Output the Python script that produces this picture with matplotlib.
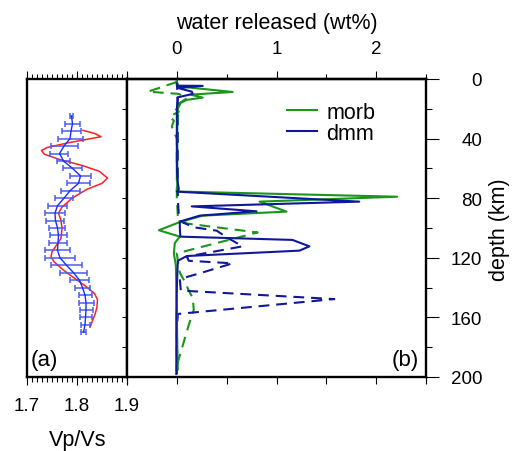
import numpy as np
import matplotlib
matplotlib.use("Agg")
import matplotlib.pyplot as plt
from matplotlib.ticker import MultipleLocator, FixedLocator

plt.rcParams['font.family'] = ['Liberation Sans', 'DejaVu Sans']

# ---------------- data : panel (a) ----------------
depth_a = [25, 30, 35, 40, 45, 50, 55, 60, 65, 70, 75, 80, 85, 90, 95, 100, 105,
           110, 115, 120, 125, 130, 135, 140, 145, 150, 155, 160, 165, 170]
vpvs_obs = [1.789, 1.791, 1.788, 1.786, 1.774, 1.765, 1.773, 1.791, 1.807, 1.803,
            1.786, 1.774, 1.761, 1.756, 1.757, 1.761, 1.763, 1.762, 1.761, 1.766,
            1.779, 1.793, 1.805, 1.811, 1.816, 1.818, 1.818, 1.817, 1.816, 1.813]
vpvs_err = [0.003, 0.014, 0.019, 0.025, 0.027, 0.018, 0.013, 0.018, 0.020, 0.022,
            0.019, 0.019, 0.019, 0.021, 0.018, 0.016, 0.017, 0.018, 0.025, 0.031,
            0.030, 0.027, 0.018, 0.014, 0.013, 0.015, 0.013, 0.012, 0.009, 0.005]
depth_model = [34.5, 36.5, 38.7, 40.5, 43, 46, 48, 50.5, 54, 58, 62, 66.5, 70, 74,
               80, 86, 90, 95, 100, 107, 112, 116, 119.5, 123, 128, 133, 139, 144,
               148, 153, 158, 163, 166]
vpvs_model = [1.812, 1.835, 1.848, 1.820, 1.780, 1.740, 1.729, 1.735, 1.765, 1.810,
              1.845, 1.861, 1.850, 1.820, 1.790, 1.770, 1.763, 1.768, 1.770, 1.768,
              1.758, 1.750, 1.748, 1.755, 1.772, 1.792, 1.817, 1.835, 1.841, 1.840,
              1.836, 1.830, 1.827]

# ---------------- data : panel (b) ----------------
morb_depth = [0, 2, 5, 8.7, 10.5, 12.5, 14, 16, 20, 30, 50, 70, 75.5, 79, 82.3, 89,
              91.7, 96, 101.5, 105.8, 110, 117, 125, 140, 160, 180, 195]
morb_water = [0.0, 0.0, 0.02, 0.56, 0.14, 0.26, 0.10, 0.04, 0.01, 0.005, 0.005, 0.005,
              0.0, 2.21, 0.83, 1.10, 0.26, 0.03, -0.18, 0.03, -0.02, -0.03, -0.01,
              -0.005, 0.0, 0.005, 0.01]
dmm_depth = [3, 4.5, 4.6, 6, 8.5, 10, 12.3, 20, 40, 60, 70, 74, 75.6, 82.3, 85.5, 88.8,
             91.7, 95.7, 100, 105.8, 108, 112.3, 115.2, 118.8, 122, 140, 160, 180, 198]
dmm_water = [0.0, 0.0, 0.26, 0.01, 0.15, 0.16, 0.01, 0.0, 0.0, 0.0, 0.01, 0.02, 0.0,
             1.83, 0.15, 0.80, 0.23, 0.03, 0.03, 0.035, 1.16, 1.33, 1.23, 0.10, 0.01,
             0.0, -0.005, -0.005, -0.005]
morb2_depth = [2, 8.5, 10, 13, 16, 19, 22, 25, 28, 32, 40, 60, 80, 92, 97, 103, 117,
               122, 130, 136, 142, 147, 155, 165, 181, 190, 195]
morb2_water = [0.0, -0.29, 0.02, 0.10, 0.03, -0.03, 0.02, -0.07, -0.03, -0.05, 0.0,
               0.0, 0.0, 0.01, 0.10, 0.81, 0.0, 0.01, 0.03, 0.08, 0.12, 0.16, 0.17,
               0.12, 0.05, 0.01, 0.01]
dmm2_depth = [0, 20, 40, 60, 80, 92, 95.5, 99.6, 101.8, 106.3, 112.3, 119.2, 122,
              123.7, 130.4, 134.2, 142, 147.7, 157.7, 170, 185, 198]
dmm2_water = [0.0, 0.01, 0.01, 0.01, 0.01, 0.02, 0.03, 0.18, 0.40, 0.50, 0.66, 0.10,
              0.12, 0.56, 0.23, 0.03, 0.04, 1.58, 0.01, 0.0, 0.0, 0.0]

W, H = 512, 452
fig = plt.figure(figsize=(W / 100, H / 100), dpi=100)

def fx(px):
    return px / W

def fy(py):
    return 1 - py / H

top_px, bot_px = 80, 378
axa = fig.add_axes([fx(27), fy(bot_px), fx(127) - fx(27), fy(top_px) - fy(bot_px)])
axb = fig.add_axes([fx(127), fy(bot_px), fx(426) - fx(127), fy(top_px) - fy(bot_px)])

green = '#1a961a'
blue = '#10189a'
TICKFS = 13.5
LABFS = 15.5

# ---- panel (a)
axa.errorbar(vpvs_obs, depth_a, xerr=vpvs_err, color='#1a2cff', ecolor='#4a5cf0',
             lw=1.0, elinewidth=1.1, capsize=2.5, capthick=1.1, zorder=3)
axa.plot(vpvs_model, depth_model, color='#ff2020', lw=1.1, zorder=2)
axa.set_xlim(1.7, 1.9)
axa.set_ylim(200, 0)
axa.xaxis.set_major_locator(FixedLocator([1.7, 1.8, 1.9]))
axa.xaxis.set_minor_locator(MultipleLocator(0.01))
axa.tick_params(axis='x', which='both', top=True, bottom=True, direction='out',
                labeltop=False, labelbottom=True, labelsize=TICKFS, width=0.8)
axa.tick_params(axis='x', which='major', length=6, pad=8.5)
axa.tick_params(axis='x', which='minor', length=3.5)
axa.xaxis.set_major_formatter(matplotlib.ticker.FormatStrFormatter('%.1f'))
axa.set_yticks(np.arange(20, 200, 20))
axa.tick_params(axis='y', which='both', left=False, right=True, direction='in',
                length=3.5, width=0.8, labelleft=False, labelright=False)

# ---- panel (b)
axb.plot(morb2_water, morb2_depth, color=green, lw=1.5, ls=(0, (5.2, 3.3)), label='_nolegend_')
axb.plot(dmm2_water, dmm2_depth, color=blue, lw=1.5, ls=(0, (5.2, 3.3)), label='_nolegend_')
axb.plot(morb_water, morb_depth, color=green, lw=1.5, label='morb')
axb.plot(dmm_water, dmm_depth, color=blue, lw=1.5, label='dmm')
axb.set_xlim(-0.5, 2.5)
axb.set_ylim(200, 0)
axb.xaxis.set_major_locator(MultipleLocator(0.5))
axb.tick_params(axis='x', which='major', bottom=True, top=False, direction='out',
                length=5, width=0.8, labelbottom=False)
sec = axb.secondary_xaxis('top')
sec.xaxis.set_major_locator(FixedLocator([0, 1, 2]))
sec.xaxis.set_minor_locator(FixedLocator([-0.5, 0.5, 1.5, 2.5]))
sec.tick_params(axis='x', which='major', length=6, width=0.8, direction='out',
                pad=10, labelsize=TICKFS)
sec.tick_params(axis='x', which='minor', length=3.3, width=0.8, direction='out')
sec.spines['top'].set_linewidth(1.7)

axb.yaxis.set_major_locator(MultipleLocator(40))
axb.yaxis.set_minor_locator(MultipleLocator(20))
axb.tick_params(axis='y', which='both', left=False, right=True, direction='out',
                labelleft=False, labelright=True, width=0.8)
axb.tick_params(axis='y', which='major', length=9, pad=31.5, labelsize=TICKFS)
axb.tick_params(axis='y', which='minor', length=4)
for lab in axb.get_yticklabels():
    lab.set_horizontalalignment('right')

for ax in (axa, axb):
    for s in ax.spines.values():
        s.set_linewidth(1.7)

leg = axb.legend(loc='upper left', bbox_to_anchor=(0.534, 0.923), frameon=False,
                 fontsize=LABFS, handlelength=1.4, handletextpad=0.45,
                 labelspacing=0.0, borderpad=0, borderaxespad=0)

# ---- labels
fig.text(fx(276.5), fy(28.5), 'water released (wt%)', ha='center', va='baseline', fontsize=LABFS)
fig.text(fx(78), fy(446.5), 'Vp/Vs', ha='center', va='baseline', fontsize=LABFS)
fig.text(fx(500), fy(230), 'depth (km)', ha='center', va='center', rotation=90, fontsize=LABFS)
fig.text(fx(31), fy(366.5), '(a)', ha='left', va='baseline', fontsize=LABFS + 0.5)
fig.text(fx(419), fy(366.5), '(b)', ha='right', va='baseline', fontsize=LABFS + 0.5)

fig.savefig('out.png', dpi=100)
